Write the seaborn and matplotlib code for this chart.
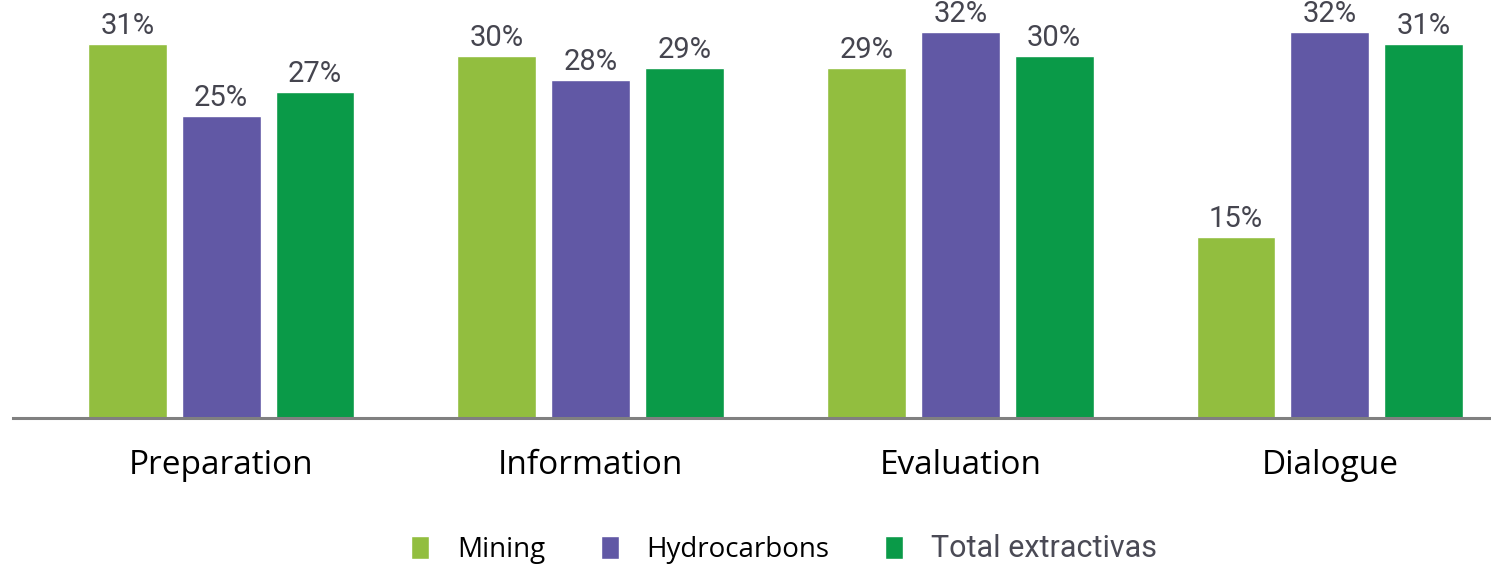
import matplotlib
matplotlib.use("Agg")
import matplotlib.pyplot as plt
import seaborn as sns
import pandas as pd

categories = ["Preparation", "Information", "Evaluation", "Dialogue"]
series = ["Mining", "Hydrocarbons", "Total extractivas"]
mining = [31, 30, 29, 15]
hydrocarbons = [25, 28, 32, 32]
total = [27, 29, 30, 31]
colors = ["#92BE3F", "#6158A5", "#0A9A48"]

rows = []
for s, vals in zip(series, [mining, hydrocarbons, total]):
    for c, v in zip(categories, vals):
        rows.append({"stage": c, "series": s, "value": v})
df = pd.DataFrame(rows)

sns.set_theme(style="white")
plt.rcParams["font.family"] = ["Open Sans", "DejaVu Sans"]

fig = plt.figure(figsize=(14.91, 5.72), dpi=100)
ax = fig.add_axes([13 / 1491, 1 - 418 / 572, 1 - 13 / 1491, 418 / 572])

sns.barplot(data=df, x="stage", y="value", hue="series", order=categories,
            hue_order=series, palette=colors, width=0.762, gap=0.16,
            saturation=1, ax=ax, legend=True)

label_font = ["Liberation Sans Narrow", "Roboto", "DejaVu Sans"]
for cont in ax.containers:
    ax.bar_label(cont, fmt="%d%%", padding=3, fontsize=21, color="#45454f",
                 family=label_font)

ax.set_xlim(-0.563, 3.436)
ax.set_ylim(0, 34.66)
ax.set_xlabel("")
ax.set_ylabel("")
ax.set_yticks([])
for sp in ["top", "left", "right"]:
    ax.spines[sp].set_visible(False)
ax.spines["bottom"].set_color("#808080")
ax.spines["bottom"].set_linewidth(2.2)
ax.tick_params(axis="x", length=0, labelsize=24, pad=22, labelcolor="black")

handles, labels = ax.get_legend_handles_labels()
ax.get_legend().remove()
leg = fig.legend(handles, labels, loc="lower center", bbox_to_anchor=(0.526, -0.03),
                 ncol=3, frameon=False, fontsize=20, handlelength=0.65,
                 handleheight=0.85, columnspacing=2.0, handletextpad=1.0)
texts = leg.get_texts()
texts[0].set_color("black")
texts[1].set_color("black")
texts[2].set_color("#4a4a55")
texts[2].set_family(label_font)
texts[2].set_fontsize(22)

fig.savefig("out.png", dpi=100)
